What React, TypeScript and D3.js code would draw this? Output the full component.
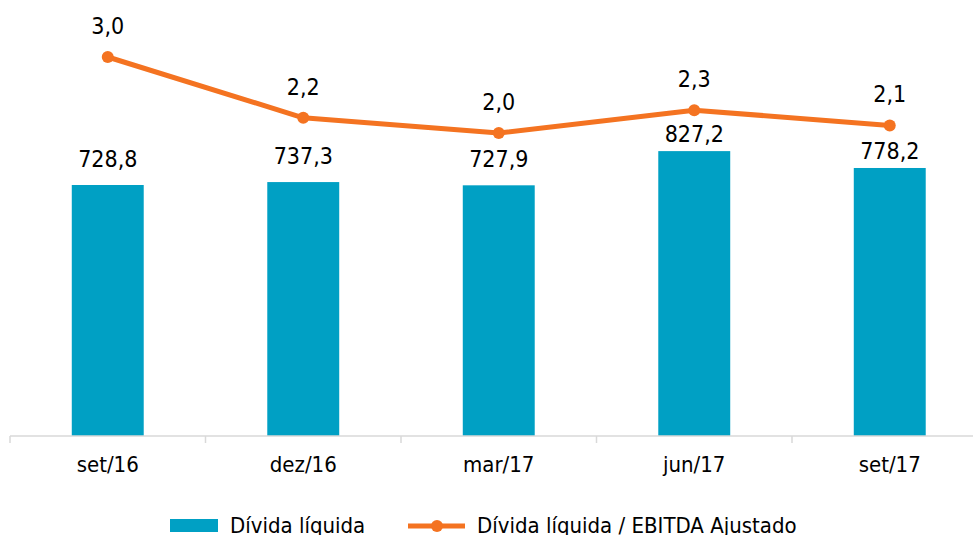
import React from "react";
import * as d3 from "d3";

const categories = ["set/16", "dez/16", "mar/17", "jun/17", "set/17"];
const dividaLiquida = [728.8, 737.3, 727.9, 827.2, 778.2];
const ratio = [3.0, 2.2, 2.0, 2.3, 2.1];
const legendLabels = ["Dívida líquida", "Dívida líquida / EBITDA Ajustado"];

const W = 973;
const H = 535;
const BAR = "#00A0C4";
const LINE = "#F47321";
const FONT = "'DejaVu Sans Condensed', 'DejaVu Sans', Verdana, sans-serif";

const fmt = (v: number) => v.toFixed(1).replace(".", ",");

export default function App() {
  const x = d3.scaleBand<string>().domain(categories).range([10, 987.5]).paddingInner(0.632).paddingOuter(0.316);
  const y = d3.scaleLinear().domain([0, 1000]).range([436, 91.6]);
  const y2 = d3.scaleLinear().domain([0, 4]).range([285, -19]);
  const step = x.step();
  const boundaries = d3.range(categories.length + 1).map((i) => 10 + i * step);
  const cx = (c: string) => (x(c) as number) + x.bandwidth() / 2;
  const line = d3
    .line<number>()
    .x((_, i) => cx(categories[i]))
    .y((d) => y2(d));

  // bar label: 18px above bar, but tucked closer when it would collide with the line
  const barLabelY = (i: number) => {
    const top = y(dividaLiquida[i]);
    const base = top - 18;
    return base - 17 - y2(ratio[i]) < 12 ? top - 9 : base;
  };

  return (
    <svg
      width={W}
      height={H}
      style={{ position: "absolute", left: 0, top: 0, background: "#fff" }}
      fontFamily={FONT}
    >
      {categories.map((c, i) => (
        <rect
          key={c}
          x={x(c)}
          y={y(dividaLiquida[i])}
          width={x.bandwidth()}
          height={y(0) - y(dividaLiquida[i])}
          fill={BAR}
        />
      ))}
      <line x1={10} x2={987.5} y1={436} y2={436} stroke="#d9d9d9" strokeWidth={1.5} />
      {boundaries.map((b, i) => (
        <line key={i} x1={b} x2={b} y1={436} y2={443} stroke="#d9d9d9" strokeWidth={1.5} />
      ))}
      {categories.map((c) => (
        <text key={c} x={cx(c)} y={472} textAnchor="middle" fontSize={22} fill="#000">
          {c}
        </text>
      ))}
      {categories.map((c, i) => (
        <text key={c} x={cx(c)} y={barLabelY(i)} textAnchor="middle" fontSize={23} fill="#000">
          {fmt(dividaLiquida[i])}
        </text>
      ))}
      <path d={line(ratio) || ""} fill="none" stroke={LINE} strokeWidth={5} strokeLinejoin="round" />
      {categories.map((c, i) => (
        <circle key={c} cx={cx(c)} cy={y2(ratio[i])} r={6} fill={LINE} />
      ))}
      {categories.map((c, i) => (
        <text key={c} x={cx(c)} y={y2(ratio[i]) - 23} textAnchor="middle" fontSize={23} fill="#000">
          {fmt(ratio[i])}
        </text>
      ))}
      <rect x={170} y={519} width={48} height={13} fill={BAR} />
      <text x={230} y={533} fontSize={22} fill="#000">
        {legendLabels[0]}
      </text>
      <line x1={408} x2={465} y1={526} y2={526} stroke={LINE} strokeWidth={5} />
      <circle cx={437} cy={526} r={6} fill={LINE} />
      <text x={477} y={533} fontSize={22} fill="#000">
        {legendLabels[1]}
      </text>
    </svg>
  );
}
